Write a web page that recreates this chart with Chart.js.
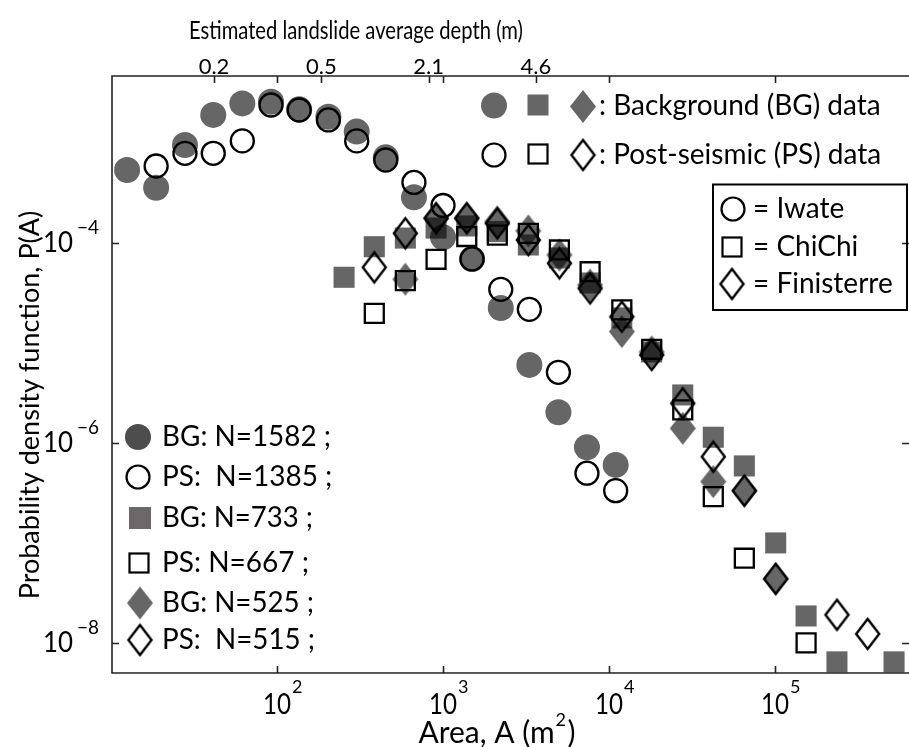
<!DOCTYPE html>
<html lang="en">
<head>
<meta charset="UTF-8">
<title>Landslide area PDF</title>
<script src="https://cdn.jsdelivr.net/npm/chart.js"></script>
<style>
  body { margin: 0; background: #fff; }
</style>
</head>
<body>
<canvas id="myChart" width="909" height="747"></canvas>
<script>
// Iwate (circles)
var iwateBgArea = [12.5, 18.7, 27.9, 41.3, 61.8, 92, 136, 204, 302, 452, 668, 1000, 1496, 2228, 3311, 4955, 7362, 10965];
var iwateBgP = [5.37e-4, 3.57e-4, 9.55e-4, 1.91e-3, 2.49e-3, 2.59e-3, 2.17e-3, 1.83e-3, 1.30e-3, 7.19e-4, 2.86e-4, 1.14e-4, 6.92e-5, 2.24e-5, 6.03e-6, 2.03e-6, 9.06e-7, 6.03e-7];
var iwatePsArea = [18.7, 27.9, 41.3, 61.8, 92, 136, 204, 302, 452, 668, 1000, 1496, 2228, 3311, 4955, 7362, 10965];
var iwatePsP = [5.89e-4, 7.89e-4, 7.89e-4, 1.05e-3, 2.40e-3, 2.14e-3, 1.70e-3, 1.05e-3, 6.76e-4, 4.03e-4, 2.37e-4, 6.92e-5, 3.44e-5, 2.17e-5, 5.09e-6, 4.98e-7, 3.33e-7];

// ChiChi (squares)
var chichiBgArea = [253.5, 385.5, 593, 908, 1390, 2123, 3266, 5023, 7691, 11940, 18070, 27800, 42460, 65310, 100900, 153800, 236000, 521000];
var chichiBgP = [4.54e-5, 9.18e-5, 1.12e-4, 1.41e-4, 1.48e-4, 1.30e-4, 9.55e-5, 7.08e-5, 3.98e-5, 1.78e-5, 8.13e-6, 3.02e-6, 1.14e-6, 5.89e-7, 1.0e-7, 1.86e-8, 6.46e-9, 6.46e-9];
var chichiPsArea = [385.5, 593, 908, 1390, 2123, 3266, 5023, 7691, 11940, 18070, 27800, 42460, 65310, 153800];
var chichiPsP = [1.98e-5, 4.20e-5, 6.87e-5, 1.16e-4, 1.20e-4, 1.25e-4, 8.51e-5, 5.16e-5, 2.14e-5, 8.65e-6, 2.14e-6, 2.90e-7, 7.03e-8, 1.0e-8];

// Finisterre (diamonds)
var finBgArea = [593, 908, 1390, 2123, 3266, 5023, 7691, 11940, 18070, 27800, 42460, 65310, 100900];
var finBgP = [4.34e-5, 1.77e-4, 1.77e-4, 1.63e-4, 1.32e-4, 7.59e-5, 3.80e-5, 1.30e-5, 8.13e-6, 1.40e-6, 4.10e-7, 3.33e-7, 4.37e-8];
var finPsArea = [385.5, 593, 908, 1390, 2123, 3266, 5023, 7691, 11940, 18070, 27800, 42460, 65310, 100900, 236000, 361400];
var finPsP = [5.71e-5, 1.25e-4, 1.77e-4, 1.77e-4, 1.57e-4, 1.07e-4, 6.27e-5, 3.52e-5, 1.83e-5, 7.59e-6, 2.49e-6, 7.29e-7, 3.33e-7, 4.37e-8, 1.91e-8, 1.23e-8];

// ticks
var xTicks = [1e2, 1e3, 1e4, 1e5];
var xTickExp = ['2', '3', '4', '5'];
var yTicks = [1e-4, 1e-6, 1e-8];
var yTickExp = ['\u22124', '\u22126', '\u22128'];
var depthPos = [1, 2, 3, 4];
var depthLabels = ['0.2', '0.5', '2.1', '4.6'];

// legend texts
var sizeLegend = ['BG: N=1582 ;', 'PS:  N=1385 ;', 'BG: N=733 ;', 'PS: N=667 ;', 'BG: N=525 ;', 'PS:  N=515 ;'];
var regionLegend = ['= Iwate', '= ChiChi', '= Finisterre'];

var GRAY = 'rgba(0,0,0,0.6)';
var FONT = 'Lato, "Open Sans", sans-serif';

function pts(xs, ys) {
    return xs.map(function (x, i) { return { x: x, y: ys[i] }; });
}

// diamond marker as a small canvas (MATLAB diamonds are taller than wide)
function diamond(w, h, fill, stroke, lw) {
    var c = document.createElement('canvas');
    c.width = w + 2 * lw + 2;
    c.height = h + 2 * lw + 2;
    var g = c.getContext('2d');
    var cx = c.width / 2, cy = c.height / 2;
    g.beginPath();
    g.moveTo(cx, cy - h / 2);
    g.lineTo(cx + w / 2, cy);
    g.lineTo(cx, cy + h / 2);
    g.lineTo(cx - w / 2, cy);
    g.closePath();
    if (fill) { g.fillStyle = fill; g.fill(); }
    if (stroke) { g.strokeStyle = stroke; g.lineWidth = lw; g.stroke(); }
    return c;
}
var dBG = diamond(26, 33, GRAY, null, 0);
var dPS = diamond(23, 30, null, '#000', 2.4);

// little drawing helpers for the plugin
function circ(ctx, x, y, r, fill, lw) {
    ctx.beginPath();
    ctx.arc(x, y, r, 0, Math.PI * 2);
    if (fill) { ctx.fillStyle = fill; ctx.fill(); }
    else { ctx.strokeStyle = '#000'; ctx.lineWidth = lw; ctx.stroke(); }
}
function sq(ctx, x, y, s, fill, lw) {
    if (fill) { ctx.fillStyle = fill; ctx.fillRect(x - s / 2, y - s / 2, s, s); }
    else { ctx.strokeStyle = '#000'; ctx.lineWidth = lw; ctx.strokeRect(x - s / 2, y - s / 2, s, s); }
}
function img(ctx, im, x, y) {
    ctx.drawImage(im, x - im.width / 2, y - im.height / 2);
}
// text, squeezed only sideways when wider than maxW
function txt(ctx, s, x, y, size, align, maxW) {
    ctx.font = size + 'px ' + FONT;
    ctx.textAlign = align || 'left';
    ctx.textBaseline = 'middle';
    ctx.fillStyle = '#000';
    var w = ctx.measureText(s).width;
    var k = (maxW && w > maxW) ? maxW / w : 1;
    ctx.save();
    ctx.translate(x, y);
    ctx.scale(k, 1);
    ctx.fillText(s, 0, 0);
    ctx.restore();
}

// axes box, ticks, labels and the three legends
var decorations = {
    id: 'decorations',
    afterDatasetsDraw: function (chart) {
        var ctx = chart.ctx, a = chart.chartArea;
        var sx = chart.scales.x, sy = chart.scales.y, st = chart.scales.xTop;
        ctx.save();

        // box
        ctx.strokeStyle = '#222';
        ctx.lineWidth = 1.6;
        ctx.beginPath();
        ctx.moveTo(a.right, a.top);
        ctx.lineTo(a.left, a.top);
        ctx.lineTo(a.left, a.bottom);
        ctx.lineTo(a.right, a.bottom);
        ctx.stroke();

        // inward ticks
        ctx.beginPath();
        xTicks.forEach(function (v) {
            var px = Math.round(sx.getPixelForValue(v)) + 0.5;
            ctx.moveTo(px, a.bottom); ctx.lineTo(px, a.bottom - 7);
            ctx.moveTo(px, a.top); ctx.lineTo(px, a.top + 7);
        });
        yTicks.forEach(function (v) {
            var py = Math.round(sy.getPixelForValue(v)) + 0.5;
            ctx.moveTo(a.left, py); ctx.lineTo(a.left + 7, py);
            ctx.moveTo(a.right, py); ctx.lineTo(a.right - 7, py);
        });
        depthPos.forEach(function (v) {
            var px = Math.round(st.getPixelForValue(v)) + 0.5;
            ctx.moveTo(px, a.top); ctx.lineTo(px, a.top + 7);
        });
        ctx.stroke();

        // bottom tick labels 10^n
        xTicks.forEach(function (v, i) {
            var px = sx.getPixelForValue(v);
            txt(ctx, '10', px, 705, 28, 'center', 28);
            txt(ctx, xTickExp[i], px + 15, 687, 18, 'left');
        });
        // left tick labels 10^-n
        yTicks.forEach(function (v, i) {
            var py = sy.getPixelForValue(v);
            txt(ctx, '10', 73, py, 28, 'right', 30);
            txt(ctx, yTickExp[i], 77, py - 15, 19, 'left', 23);
        });
        // top (depth) tick labels
        depthPos.forEach(function (v, i) {
            txt(ctx, depthLabels[i], st.getPixelForValue(v), 67, 22, 'center');
        });

        // axis titles
        txt(ctx, 'Estimated landslide average depth (m)', 356, 31, 25, 'center', 334);
        ctx.font = '30px ' + FONT;
        var w1 = ctx.measureText('Area, A (m').width;
        var w2 = ctx.measureText(')').width;
        var bx = 497 - (w1 + 13 + w2) / 2;
        txt(ctx, 'Area, A (m', bx, 733, 30, 'left');
        txt(ctx, '2', bx + w1 + 1, 720, 18, 'left');
        txt(ctx, ')', bx + w1 + 13, 733, 30, 'left');

        ctx.save();
        ctx.translate(30, 405);
        ctx.rotate(-Math.PI / 2);
        txt(ctx, 'Probability density function, P(A)', 0, 0, 27, 'center', 454);
        ctx.restore();

        // top-right legend
        circ(ctx, 494, 105.5, 13, GRAY);
        sq(ctx, 538, 105, 21, GRAY);
        img(ctx, dBG, 583, 106.5);
        txt(ctx, ': Background (BG) data', 599, 106, 28, 'left', 302);
        circ(ctx, 494, 155, 11.5, null, 2.2);
        sq(ctx, 538, 154, 19, null, 2.2);
        img(ctx, dPS, 583, 155);
        txt(ctx, ': Post-seismic (PS) data', 599, 155, 28, 'left', 298);

        // boxed region legend
        ctx.strokeStyle = '#000';
        ctx.lineWidth = 2;
        ctx.strokeRect(713, 184.5, 194, 125.5);
        circ(ctx, 733, 209, 11.5, null, 2.2);
        sq(ctx, 732, 247, 19, null, 2.2);
        img(ctx, dPS, 732, 284);
        var legW = [97, 112, 149];
        regionLegend.forEach(function (s, i) {
            txt(ctx, s, 753, [209, 247, 284][i], 28, 'left', legW[i]);
        });

        // sample-size legend, lower left
        var ly = [437, 477, 518, 563, 603, 640];
        var lw = [169, 171, 151, 148, 152, 153];
        circ(ctx, 138, ly[0], 13, '#4d4d4d');
        circ(ctx, 138, ly[1], 11.5, null, 2.2);
        sq(ctx, 140, ly[2], 22, '#6a6868');
        sq(ctx, 139, ly[3], 19, null, 2.2);
        img(ctx, dBG, 140, ly[4]);
        img(ctx, dPS, 140, ly[5]);
        sizeLegend.forEach(function (s, i) {
            txt(ctx, s, 162, ly[i], 28, 'left', lw[i]);
        });

        ctx.restore();
    }
};

var datasets = [
    { label: 'Iwate PS', data: pts(iwatePsArea, iwatePsP), pointStyle: 'circle', pointRadius: 11.5,
      backgroundColor: 'rgba(0,0,0,0)', borderColor: '#000', borderWidth: 2.3 },
    { label: 'ChiChi PS', data: pts(chichiPsArea, chichiPsP), pointStyle: 'rect', pointRadius: 13.4,
      backgroundColor: 'rgba(0,0,0,0)', borderColor: '#000', borderWidth: 2.3 },
    { label: 'Finisterre PS', data: pts(finPsArea, finPsP), pointStyle: dPS, pointRadius: 15 },
    { label: 'Iwate BG', data: pts(iwateBgArea, iwateBgP), pointStyle: 'circle', pointRadius: 13,
      backgroundColor: GRAY, borderWidth: 0 },
    { label: 'ChiChi BG', data: pts(chichiBgArea, chichiBgP), pointStyle: 'rect', pointRadius: 14.9,
      backgroundColor: GRAY, borderWidth: 0 },
    { label: 'Finisterre BG', data: pts(finBgArea, finBgP), pointStyle: dBG, pointRadius: 15 }
];

new Chart(document.getElementById('myChart').getContext('2d'), {
    type: 'scatter',
    data: { datasets: datasets },
    options: {
        responsive: false,
        animation: false,
        events: [],
        layout: { autoPadding: false, padding: { left: 112, top: 76, right: 0, bottom: 74 } },
        plugins: { legend: { display: false }, tooltip: { enabled: false } },
        scales: {
            x: { type: 'logarithmic', display: false, min: 10.14, max: 641000 },
            y: { type: 'logarithmic', display: false, min: 5.0e-9, max: 4.68e-3 },
            xTop: { type: 'linear', axis: 'x', position: 'top', display: false, min: 0.0497, max: 7.476 }
        }
    },
    plugins: [decorations]
});
</script>
</body>
</html>
